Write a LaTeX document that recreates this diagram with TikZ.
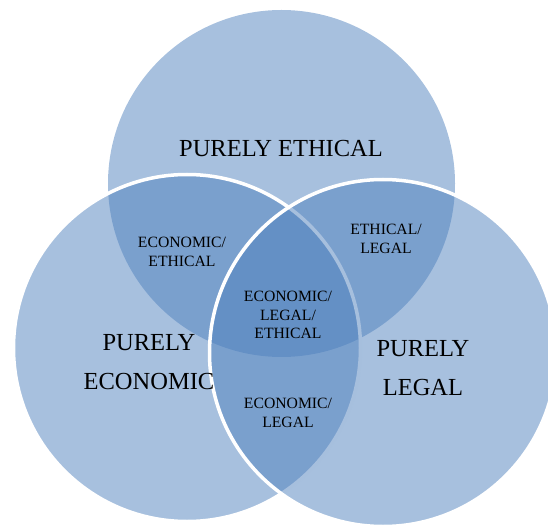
\documentclass[tikz,border=0pt]{standalone}
\usepackage{fontspec}
\setmainfont{Liberation Serif}
\definecolor{vennblue}{RGB}{79,129,189}
\begin{document}
\begin{tikzpicture}[x=1pt,y=-1pt,
  disc/.style={circle, inner sep=0pt, minimum size=347pt, fill=vennblue, fill opacity=0.5},
  rim/.style={draw=white, line width=3.5pt},
  biglabel/.style={align=center, font=\fontsize{24.5}{39}\selectfont, text=black},
  smalllabel/.style={align=center, font=\fontsize{15.7}{18.5}\selectfont, text=black}]
  \useasboundingbox (0,0) rectangle (548,526);
  % the three overlapping sets
  \node[disc] (ethical) at (281.5,183.5) {};
  \node[disc, rim] (economic) at (187,348) {};
  \node[disc, rim] (legal) at (383,353) {};
  % set labels
  \node[biglabel] (pethical) at (281,149) {PURELY ETHICAL};
  \node[biglabel] (peconomic) at (149,362) {PURELY\\ECONOMIC};
  \node[biglabel] (plegal) at (423,368) {PURELY\\LEGAL};
  % overlap labels
  \node[smalllabel] (econeth) at (182,252) {ECONOMIC/\\ETHICAL};
  \node[smalllabel] (ethleg) at (386,239) {ETHICAL/\\LEGAL};
  \node[smalllabel] (all) at (288,315) {ECONOMIC/\\LEGAL/\\ETHICAL};
  \node[smalllabel] (econleg) at (288,413) {ECONOMIC/\\LEGAL};
\end{tikzpicture}
\end{document}
